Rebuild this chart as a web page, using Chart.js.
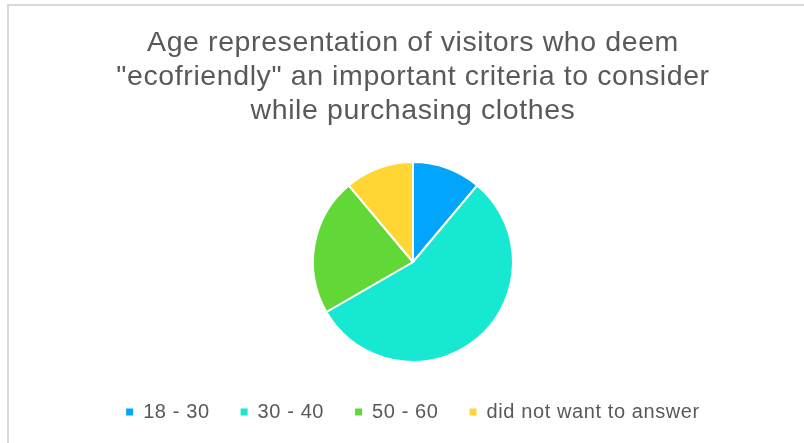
<!DOCTYPE html>
<html>
<head>
<meta charset="utf-8">
<script src="https://cdn.jsdelivr.net/npm/chart.js@4"></script>
<style>
  html, body { margin: 0; padding: 0; background: #fff; overflow: hidden; width: 804px; height: 443px; }
  #frame { position: absolute; left: 7px; top: 4px; width: 840px; height: 480px; border: 2px solid #d9d9d9; box-sizing: border-box; }
  #wrap { position: absolute; left: 0; top: 0; width: 804px; height: 443px; }
</style>
</head>
<body>
<div id="frame"></div>
<div id="wrap"><canvas id="c" width="804" height="443"></canvas></div>
<script>
const titleLines = ['Age representation of visitors who deem', '"ecofriendly" an important criteria to consider', 'while purchasing clothes'];
const categories = ['18 - 30', '30 - 40', '50 - 60', 'did not want to answer'];
const visitors = [1, 5, 2, 1];
const sliceColors = ['#02A5FC', '#17E8D1', '#62D836', '#FFD634'];

const FONT = '"Liberation Sans", Arial, sans-serif';

// slightly open tracking for all chart text
const tracking = {
  id: 'tracking',
  beforeLayout(chart) { chart.ctx.letterSpacing = '0.6px'; },
  beforeDraw(chart) { chart.ctx.letterSpacing = '0.6px'; }
};

new Chart(document.getElementById('c'), {
  type: 'pie',
  data: {
    labels: categories,
    datasets: [{
      data: visitors,
      backgroundColor: sliceColors,
      borderColor: '#ffffff',
      borderWidth: 2,
      radius: 100
    }]
  },
  plugins: [tracking],
  options: {
    responsive: false,
    animation: false,
    devicePixelRatio: 1,
    layout: { padding: { left: 22, right: 0, top: 0, bottom: 11 } },
    plugins: {
      tooltip: { enabled: false },
      title: {
        display: true,
        text: titleLines,
        color: '#595959',
        font: { family: FONT, size: 28.5, weight: 'normal', lineHeight: 1.193 },
        padding: { top: 26.6, bottom: 24.4 }
      },
      legend: {
        position: 'bottom',
        labels: {
          boxWidth: 7,
          boxHeight: 7,
          padding: 31,
          color: '#595959',
          font: { family: FONT, size: 20 },
          generateLabels(chart) {
            const ds = chart.data.datasets[0];
            return chart.data.labels.map((l, i) => ({
              text: l,
              fillStyle: ds.backgroundColor[i],
              strokeStyle: ds.backgroundColor[i],
              lineWidth: 0,
              fontColor: '#595959',
              index: i
            }));
          }
        }
      }
    }
  }
});
</script>
</body>
</html>
